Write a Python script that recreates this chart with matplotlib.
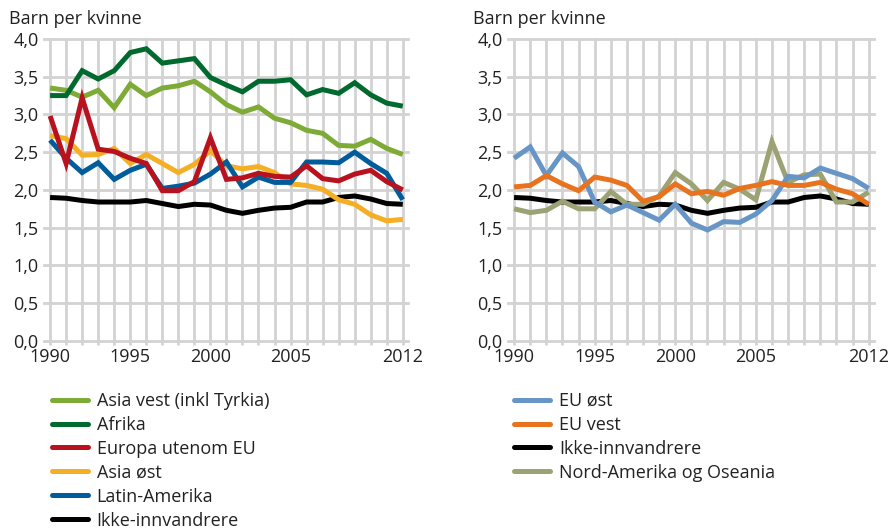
import matplotlib
matplotlib.use("Agg")
import matplotlib.pyplot as plt
from matplotlib.ticker import FixedLocator, FuncFormatter

plt.rcParams['font.family'] = ['Open Sans', 'DejaVu Sans']

years = list(range(1990, 2013))

# venstre panel
asia_vest = [3.35, 3.32, 3.23, 3.32, 3.09, 3.40, 3.25, 3.35, 3.38, 3.44, 3.30, 3.13,
             3.03, 3.10, 2.95, 2.89, 2.79, 2.75, 2.59, 2.58, 2.67, 2.55, 2.47]
afrika = [3.25, 3.25, 3.58, 3.47, 3.58, 3.82, 3.87, 3.68, 3.71, 3.74, 3.49, 3.39,
          3.30, 3.44, 3.44, 3.46, 3.26, 3.33, 3.28, 3.42, 3.26, 3.15, 3.11]
europa_ikke_eu = [2.98, 2.35, 3.22, 2.54, 2.51, 2.42, 2.35, 1.99, 1.99, 2.11, 2.69, 2.14,
                  2.16, 2.22, 2.18, 2.17, 2.32, 2.15, 2.12, 2.21, 2.26, 2.11, 2.00]
asia_ost = [2.72, 2.68, 2.46, 2.47, 2.55, 2.35, 2.47, 2.35, 2.23, 2.34, 2.52, 2.32,
            2.28, 2.31, 2.23, 2.08, 2.06, 2.01, 1.87, 1.81, 1.67, 1.59, 1.61]
latin_amerika = [2.66, 2.42, 2.23, 2.36, 2.14, 2.26, 2.34, 2.02, 2.05, 2.09, 2.21, 2.37,
                 2.04, 2.17, 2.10, 2.10, 2.37, 2.37, 2.36, 2.50, 2.35, 2.22, 1.87]
ikke_innv = [1.90, 1.89, 1.86, 1.84, 1.84, 1.84, 1.86, 1.82, 1.78, 1.81, 1.80, 1.73,
             1.69, 1.73, 1.76, 1.77, 1.84, 1.84, 1.90, 1.92, 1.88, 1.82, 1.81]

# høyre panel
eu_ost = [2.42, 2.57, 2.19, 2.49, 2.31, 1.84, 1.71, 1.80, 1.70, 1.60, 1.81, 1.56,
          1.47, 1.58, 1.57, 1.68, 1.86, 2.18, 2.16, 2.29, 2.22, 2.15, 2.02]
eu_vest = [2.04, 2.06, 2.19, 2.08, 1.99, 2.17, 2.13, 2.06, 1.85, 1.91, 2.08, 1.95,
           1.98, 1.93, 2.02, 2.06, 2.11, 2.06, 2.06, 2.10, 2.01, 1.95, 1.81]
nord_amerika = [1.75, 1.70, 1.73, 1.85, 1.75, 1.75, 1.98, 1.81, 1.81, 1.92, 2.23, 2.08,
                1.86, 2.10, 2.01, 1.87, 2.64, 2.10, 2.20, 2.21, 1.84, 1.84, 1.97]

left_series = [
    ("Asia vest (inkl Tyrkia)", asia_vest, "#7dab36"),
    ("Afrika", afrika, "#006a2e"),
    ("Europa utenom EU", europa_ikke_eu, "#b7121d"),
    ("Asia øst", asia_ost, "#f4af25"),
    ("Latin-Amerika", latin_amerika, "#005c9a"),
    ("Ikke-innvandrere", ikke_innv, "#000000"),
]
right_series = [
    ("EU øst", eu_ost, "#6796c6"),
    ("EU vest", eu_vest, "#e8731e"),
    ("Ikke-innvandrere", ikke_innv, "#000000"),
    ("Nord-Amerika og Oseania", nord_amerika, "#9ca273"),
]
left_z = [3, 3, 5, 4, 4, 2]
right_z = [4, 5, 2, 3]

fig = plt.figure(figsize=(8.89, 5.31), dpi=100)
ax1 = fig.add_axes([0.0495, 0.358, 0.4095, 0.5686])
ax2 = fig.add_axes([0.5714, 0.358, 0.4117, 0.5686])

grid_col = "#d3d3d3"
txt_col = "#222222"
tick_fs = 13
fs = 13

def style(ax):
    ax.set_xlim(1989.62, 2012.33)
    ax.set_ylim(0, 4)
    ax.xaxis.set_major_locator(FixedLocator([1990, 1995, 2000, 2005, 2012]))
    ax.xaxis.set_minor_locator(FixedLocator(years))
    ax.yaxis.set_major_locator(FixedLocator([i * 0.5 for i in range(9)]))
    ax.yaxis.set_major_formatter(FuncFormatter(lambda v, p: f"{v:.1f}".replace(".", ",")))
    ax.grid(True, which="both", axis="x", color=grid_col, linewidth=2.0)
    ax.grid(True, which="major", axis="y", color=grid_col, linewidth=2.0)
    ax.set_axisbelow(True)
    for s in ax.spines.values():
        s.set_visible(False)
    ax.tick_params(axis="x", which="both", length=3, width=2.0, color=grid_col,
                   labelsize=tick_fs, pad=2, labelcolor=txt_col)
    ax.tick_params(axis="y", length=0, labelsize=tick_fs, pad=4, labelcolor=txt_col)
    for gl in ax.get_ygridlines() + ax.get_xgridlines():
        gl.set_clip_on(False)

for ax, series, zs in [(ax1, left_series, left_z), (ax2, right_series, right_z)]:
    style(ax)
    for (name, vals, col), z in zip(series, zs):
        ax.plot(years, vals, color=col, linewidth=3.6, label=name, zorder=z,
                solid_joinstyle="miter", solid_capstyle="butt")

fig.text(0.010, 0.965, "Barn per kvinne", fontsize=fs, color=txt_col, va="center")
fig.text(0.532, 0.965, "Barn per kvinne", fontsize=fs, color=txt_col, va="center")

h1, l1 = ax1.get_legend_handles_labels()
h2, l2 = ax2.get_legend_handles_labels()
leg_kw = dict(frameon=False, fontsize=fs, handlelength=2.0, handletextpad=0.5,
              labelspacing=0.33, borderaxespad=0, borderpad=0)
fig.legend(h1, l1, loc="upper left", bbox_to_anchor=(0.058, 0.262), **leg_kw)
fig.legend(h2, l2, loc="upper left", bbox_to_anchor=(0.578, 0.262), **leg_kw)
for leg in fig.legends:
    for t in leg.get_texts():
        t.set_color(txt_col)
    for ln in leg.get_lines():
        ln.set_solid_capstyle("round")

fig.savefig("out.png", dpi=100)
